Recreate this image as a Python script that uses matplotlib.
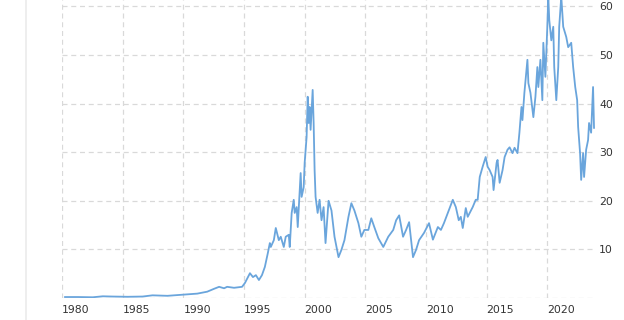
import matplotlib
matplotlib.use("Agg")
import matplotlib.pyplot as plt
from matplotlib.lines import Line2D
from matplotlib.transforms import ScaledTranslation

# Price history (decimal year, price)
years = [1980.25, 1981.31, 1982.54, 1983.36, 1984.18, 1985.41, 1986.64, 1987.46,
         1988.69, 1989.51, 1990.33, 1991.15, 1991.97, 1992.54, 1992.95, 1993.36,
         1993.61, 1994.18, 1994.84, 1995.08, 1995.49, 1995.74, 1995.98, 1996.23,
         1996.48, 1996.72, 1996.97, 1997.13, 1997.21, 1997.46, 1997.62, 1997.87,
         1998.03, 1998.28, 1998.44, 1998.69, 1998.77, 1998.93, 1999.10, 1999.18,
         1999.34, 1999.43, 1999.59, 1999.67, 1999.75, 1999.92, 2000.00, 2000.16,
         2000.25, 2000.33, 2000.41, 2000.49, 2000.66, 2000.74, 2000.82, 2000.90,
         2001.07, 2001.23, 2001.39, 2001.56, 2001.72, 2001.97, 2002.21, 2002.46,
         2002.79, 2003.03, 2003.28, 2003.61, 2003.85, 2004.10, 2004.43, 2004.67,
         2004.92, 2005.25, 2005.49, 2005.74, 2006.07, 2006.48, 2006.89, 2007.30,
         2007.54, 2007.79, 2008.11, 2008.36, 2008.61, 2008.93, 2009.18, 2009.43,
         2009.84, 2010.25, 2010.57, 2010.98, 2011.23, 2011.48, 2011.80, 2012.21,
         2012.46, 2012.70, 2012.87, 2013.03, 2013.28, 2013.44, 2013.85, 2014.10,
         2014.26, 2014.43, 2014.67, 2014.92, 2015.08, 2015.25, 2015.49, 2015.57,
         2015.82, 2015.90, 2016.07, 2016.31, 2016.48, 2016.72, 2016.89, 2017.13,
         2017.30, 2017.54, 2017.70, 2017.87, 2017.95, 2018.11, 2018.36, 2018.44,
         2018.61, 2018.85, 2019.02, 2019.18, 2019.26, 2019.43, 2019.59, 2019.67,
         2019.84, 2020.00, 2020.08, 2020.16, 2020.33, 2020.49, 2020.57, 2020.74,
         2020.90, 2020.98, 2021.15, 2021.31, 2021.56, 2021.72, 2021.97, 2022.13,
         2022.30, 2022.46, 2022.54, 2022.70, 2022.79, 2022.95, 2023.03, 2023.20,
         2023.36, 2023.44, 2023.61, 2023.69, 2023.77, 2023.85]
prices = [0.2, 0.2, 0.15, 0.35, 0.3, 0.25, 0.3, 0.55,
          0.45, 0.6, 0.75, 0.9, 1.3, 1.9, 2.3, 2.0,
          2.3, 2.1, 2.3, 3.1, 5.1, 4.3, 4.7, 3.7,
          4.7, 6.4, 9.3, 11.3, 10.5, 11.9, 14.4, 11.9,
          12.6, 10.5, 12.6, 13.0, 10.5, 17.5, 20.2, 17.5,
          18.7, 14.6, 22.2, 25.7, 20.8, 22.8, 27.8, 33.1,
          41.4, 36.0, 39.3, 34.6, 42.8, 36.0, 26.3, 20.8,
          17.5, 20.2, 16.0, 18.7, 11.3, 20.0, 18.0, 12.6,
          8.4, 9.9, 11.9, 16.7, 19.5, 18.0, 15.4, 12.6,
          14.0, 14.0, 16.4, 14.6, 12.3, 10.5, 12.6, 14.0,
          16.0, 17.0, 12.6, 14.0, 15.6, 8.4, 9.9, 11.9,
          13.4, 15.4, 12.0, 14.6, 14.0, 15.4, 17.5, 20.2,
          18.7, 16.0, 16.7, 14.4, 18.5, 16.7, 18.7, 20.2,
          20.2, 24.9, 27.0, 29.0, 27.0, 26.3, 24.9, 22.2,
          27.8, 28.4, 23.7, 26.3, 29.0, 30.5, 31.0, 29.8,
          30.9, 29.8, 34.0, 39.3, 36.6, 42.2, 49.0, 44.2,
          42.2, 37.2, 41.4, 47.5, 43.4, 49.0, 40.7, 52.5,
          45.5, 55.8, 62.0, 57.2, 53.0, 55.8, 47.5, 40.7,
          47.5, 55.8, 62.0, 55.8, 53.7, 51.6, 52.5, 47.5,
          43.4, 40.7, 35.2, 29.8, 24.3, 29.8, 24.9, 30.5,
          32.5, 36.0, 34.0, 38.7, 43.4, 35.0]

tick_years = [1980, 1985, 1990, 1995, 2000, 2005, 2010, 2015, 2020]
price_ticks = [0, 10, 20, 30, 40, 50, 60]
price_labels = ["", "10", "20", "30", "40", "50", "60"]

fig = plt.figure(figsize=(6.24, 3.2), dpi=100)
ax = fig.add_axes([62 / 624, 22 / 320, (595 - 62) / 624, 298 / 320])

ax.plot(years, prices, color="#6aa5dc", lw=1.3, solid_joinstyle="round")

ax.set_xlim(1980.25, 2023.93)
ax.set_ylim(0, 61.3)

# grid + ticks
ax.set_xticks(tick_years)
ax.set_xticklabels([str(y) for y in tick_years], ha="left")
for lbl in ax.get_xticklabels():
    lbl.set_transform(lbl.get_transform() + ScaledTranslation(3 / 100, 0, fig.dpi_scale_trans))
ax.set_yticks(price_ticks)
ax.set_yticklabels(price_labels)
ax.yaxis.tick_right()
ax.tick_params(axis="both", length=0, labelsize=7.8, colors="#333333")
ax.tick_params(axis="x", pad=5)
ax.tick_params(axis="y", pad=3)
ax.grid(True, color="#d9d9d9", lw=0.9, linestyle=(0, (4, 3)))
ax.set_axisbelow(True)
ax.set_facecolor("none")
for s in ax.spines.values():
    s.set_visible(False)

# faint left border of the panel
fig.add_artist(Line2D([26 / 624, 26 / 624], [0, 1], color="#ebebeb", lw=1.2))

fig.savefig("out.png", dpi=100)
